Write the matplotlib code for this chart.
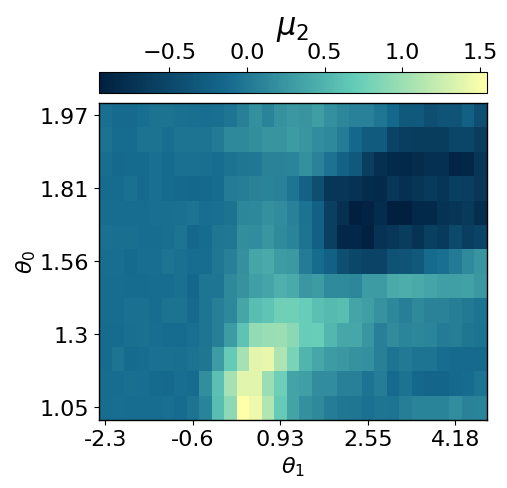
import matplotlib
matplotlib.use("Agg")
import matplotlib.pyplot as plt
from matplotlib.colors import LinearSegmentedColormap
import numpy as np

x_labels = ["-2.3", "-0.6", "0.93", "2.55", "4.18"]
x_label_cols = [0, 7, 14, 21, 28]
y_labels = ["1.05", "1.3", "1.56", "1.81", "1.97"]
y_label_rows = [0, 3, 6, 9, 12]
cbar_ticks = [-0.5, 0.0, 0.5, 1.0, 1.5]
vmin, vmax = -0.953, 1.543

# rows listed from bottom (row 0) to top (row 12)
row0 = [-.09,-.08,-.09,-.09,-.09,-.07,-.1,-.03,.1,.58,.92,1.54,1.45,1.12,.7,.36,.2,.14,.04,0,-.01,-.06,-.02,-.04,.05,.1,.1,.1,.17,.09,.1]
row1 = [-.09,-.09,-.07,-.08,-.11,-.13,-.08,-.1,.18,.6,1.05,1.38,1.38,1.0,.75,.36,.33,.17,.17,.07,.07,-.04,.04,-.12,-.05,-.14,-.17,-.17,-.13,-.1,-.03]
row2 = [-.1,-.04,-.11,-.09,-.06,-.06,-.07,-.05,-.01,.3,.7,1.05,1.4,1.42,1.1,.82,.5,.4,.3,.27,.22,.2,.07,-.03,.01,-.04,-.03,-.09,-.12,-.12,-.12]
row3 = [-.1,-.1,-.07,-.06,-.08,-.1,-.1,-.07,-.02,.06,.3,.63,.95,.98,1.0,.9,.72,.73,.52,.4,.4,.25,.07,.16,.11,.12,.11,.03,.05,-.01,-.05]
row4 = [-.09,-.09,-.06,-.06,-.09,-.05,-.05,-.12,-.02,.06,.13,.38,.58,.64,.77,.77,.72,.6,.55,.58,.37,.33,.22,.13,.06,.14,.09,.09,.05,.01,-.03]
row5 = [-.09,-.09,-.1,-.1,-.09,-.09,-.06,-.14,-.02,-.02,.14,.22,.33,.37,.47,.42,.26,.3,.15,.15,.12,.3,.3,.42,.45,.42,.37,.33,.33,.35,.27]
row6 = [-.08,-.08,-.11,-.08,-.08,-.03,-.06,-.09,-.09,0,.07,.2,.38,.42,.3,.28,.03,-.1,-.22,-.42,-.5,-.55,-.55,-.38,-.35,-.3,-.12,-.07,.02,.15,.25]
row7 = [-.06,-.07,-.07,-.09,-.09,-.07,-.03,-.14,-.1,-.01,0,.18,.17,.25,.15,.1,-.03,-.22,-.58,-.85,-.85,-.92,-.72,-.68,-.62,-.72,-.58,-.65,-.48,-.6,-.55]
row8 = [-.09,-.09,-.09,-.09,-.07,-.07,-.06,-.03,-.08,-.07,-.05,.12,.13,.2,.17,.08,-.05,-.22,-.58,-.75,-.95,-.9,-.8,-.95,-.95,-.83,-.83,-.72,-.7,-.65,-.78]
row9 = [-.1,-.1,-.06,-.12,-.07,-.11,-.13,-.14,-.13,-.1,.03,.05,.09,.1,.08,-.02,-.2,-.42,-.68,-.68,-.72,-.8,-.82,-.68,-.75,-.7,-.65,-.7,-.58,-.6,-.68]
row10 = [-.08,-.13,-.11,-.11,-.07,-.11,-.06,-.06,-.07,-.09,-.05,-.01,0,.09,.09,.11,.2,.09,-.05,-.2,-.3,-.6,-.75,-.82,-.83,-.8,-.75,-.75,-.88,-.85,-.7]
row11 = [-.05,-.1,-.1,-.05,-.05,-.08,-.03,-.04,-.04,.02,.14,.14,.18,.24,.24,.3,.25,.17,.14,.03,-.14,-.28,-.28,-.55,-.6,-.62,-.62,-.62,-.52,-.52,-.62]
row12 = [-.07,-.12,-.12,-.08,-.05,-.05,-.06,-.07,-.08,-.07,-.02,.07,.2,.1,.22,.27,.24,.32,.2,.12,.08,.08,-.01,-.14,-.3,-.3,-.42,-.36,-.36,-.23,-.42]
rows = [row0,row1,row2,row3,row4,row5,row6,row7,row8,row9,row10,row11,row12]

cmap = LinearSegmentedColormap.from_list("m", ["#011f3f", "#156a8e", "#66cdb9", "#ffffaa"])

W, H = 507, 489
fig = plt.figure(figsize=(W/100, H/100), dpi=100)
ax = fig.add_axes([99/W, (H-420.5)/H, 387.5/W, 316.5/H])
im = ax.imshow(np.array(rows), origin="lower", aspect="auto", cmap=cmap, vmin=vmin, vmax=vmax, interpolation="nearest")
ax.set_xticks(x_label_cols)
ax.set_xticklabels(x_labels)
ax.set_yticks(y_label_rows)
ax.set_yticklabels(y_labels)
ax.tick_params(labelsize=16)
ax.set_xlabel(r"$\theta_1$", fontsize=16, labelpad=4)
ax.set_ylabel(r"$\theta_0$", fontsize=16, labelpad=1)
for s in ax.spines.values():
    s.set_linewidth(1.0)

cax = fig.add_axes([99/W, (H-94)/H, 387.5/W, 21/H])
cb = fig.colorbar(im, cax=cax, orientation="horizontal", ticks=cbar_ticks)
cax.xaxis.set_ticks_position("top")
cax.xaxis.set_label_position("top")
cax.tick_params(labelsize=16)
cb.set_label(r"$\mu_2$", fontsize=22, labelpad=6)
fig.savefig("out.png", dpi=100)
